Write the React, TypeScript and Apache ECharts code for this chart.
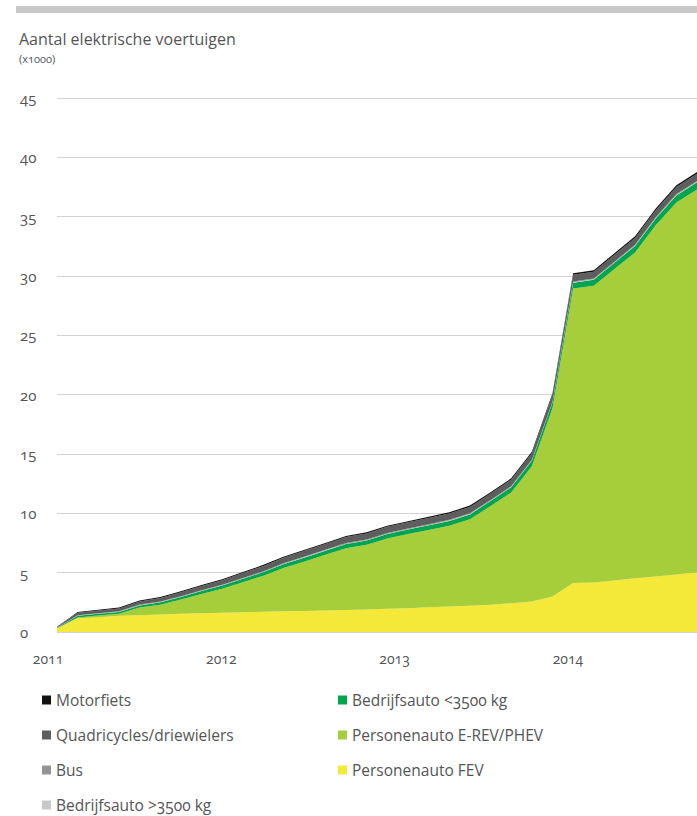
import React, { useEffect, useRef } from "react";
import * as echarts from "echarts";

// Observation points (regular spacing along the time axis)
const periods = [
  "1", "2", "3", "4", "5", "6", "7", "8", "9", "10", "11", "12", "13", "14", "15", "16",
  "17", "18", "19", "20", "21", "22", "23", "24", "25", "26", "27", "28", "29", "30", "31", "32",
];

// Year labels on the time axis
const yearLabels = [2011, 2012, 2013, 2014];

// Values (x1000), bottom to top of the stack
const personenautoFEV = [
  0.32, 1.15, 1.25, 1.36, 1.42, 1.48, 1.53, 1.58, 1.62, 1.66, 1.70, 1.74, 1.78, 1.82, 1.86, 1.90,
  1.95, 2.00, 2.08, 2.15, 2.22, 2.30, 2.42, 2.58, 3.00, 4.12, 4.17, 4.35, 4.53, 4.68, 4.85, 5.01,
];
const personenautoPHEV = [
  0.0, 0.07, 0.13, 0.17, 0.64, 0.82, 1.20, 1.63, 2.03, 2.54, 3.05, 3.67, 4.17, 4.69, 5.20, 5.45,
  5.93, 6.25, 6.52, 6.81, 7.28, 8.31, 9.33, 11.38, 15.85, 24.82, 25.01, 26.23, 27.45, 29.59, 31.35, 32.28,
];
const bedrijfsautoKlein = [
  0.03, 0.14, 0.15, 0.16, 0.18, 0.20, 0.22, 0.24, 0.26, 0.28, 0.30, 0.32, 0.33, 0.34, 0.35, 0.36,
  0.37, 0.38, 0.39, 0.40, 0.41, 0.43, 0.45, 0.47, 0.48, 0.50, 0.51, 0.53, 0.55, 0.57, 0.59, 0.61,
];
const bedrijfsautoGroot = [
  0.01, 0.02, 0.02, 0.02, 0.02, 0.02, 0.02, 0.02, 0.02, 0.02, 0.02, 0.03, 0.03, 0.03, 0.03, 0.03,
  0.03, 0.03, 0.03, 0.03, 0.03, 0.03, 0.03, 0.03, 0.03, 0.03, 0.03, 0.03, 0.03, 0.04, 0.04, 0.04,
];
const bus = [
  0.01, 0.04, 0.04, 0.04, 0.05, 0.05, 0.05, 0.05, 0.05, 0.05, 0.05, 0.05, 0.05, 0.05, 0.06, 0.06,
  0.06, 0.06, 0.06, 0.06, 0.06, 0.06, 0.06, 0.06, 0.07, 0.07, 0.07, 0.07, 0.07, 0.07, 0.07, 0.07,
];
const quadricycles = [
  0.05, 0.20, 0.22, 0.24, 0.27, 0.30, 0.33, 0.36, 0.39, 0.42, 0.45, 0.47, 0.48, 0.49, 0.50, 0.51,
  0.52, 0.52, 0.53, 0.53, 0.54, 0.54, 0.55, 0.55, 0.56, 0.57, 0.57, 0.58, 0.58, 0.59, 0.59, 0.60,
];
const motorfiets = [
  0.02, 0.06, 0.06, 0.07, 0.07, 0.07, 0.08, 0.08, 0.08, 0.08, 0.09, 0.09, 0.09, 0.09, 0.10, 0.10,
  0.10, 0.10, 0.10, 0.11, 0.11, 0.11, 0.11, 0.12, 0.12, 0.13, 0.13, 0.13, 0.14, 0.14, 0.15, 0.15,
];

const seriesDefs = [
  { name: "Personenauto FEV", data: personenautoFEV, color: "#f4e838" },
  { name: "Personenauto E-REV/PHEV", data: personenautoPHEV, color: "#a6cd3a" },
  { name: "Bedrijfsauto <3500 kg", data: bedrijfsautoKlein, color: "#00a54f" },
  { name: "Bedrijfsauto >3500 kg", data: bedrijfsautoGroot, color: "#c9c9c9" },
  { name: "Bus", data: bus, color: "#949494" },
  { name: "Quadricycles/driewielers", data: quadricycles, color: "#5e5e5e" },
  { name: "Motorfiets", data: motorfiets, color: "#111111" },
];

const FONT = "'Open Sans', Lato, sans-serif";

export default function App() {
  const ref = useRef<HTMLDivElement>(null);

  useEffect(() => {
    if (!ref.current) return;
    const chart = echarts.init(ref.current, undefined, { renderer: "svg" });
    const yearMin = yearLabels[0];
    const yearMax = yearMin + 640 / 173.3;
    const legendText = { fontFamily: FONT, fontSize: 15.5, lineHeight: 14, color: "#555555" };
    const legendBase = {
      orient: "vertical",
      top: 692,
      height: 220,
      padding: 0,
      icon: "rect",
      itemWidth: 9,
      itemHeight: 9,
      itemGap: 19,
      selectedMode: false,
      textStyle: legendText,
    };
    chart.setOption({
      animation: false,
      textStyle: { fontFamily: FONT },
      title: {
        text: "Aantal elektrische voertuigen",
        subtext: "(x1000)",
        left: 19,
        top: 31,
        padding: 0,
        itemGap: 6,
        textStyle: { fontFamily: FONT, fontSize: 16, fontWeight: "normal", color: "#555555" },
        subtextStyle: { fontFamily: FONT, fontSize: 11, color: "#555555" },
      },
      graphic: [
        {
          type: "rect",
          shape: { x: 16, y: 6, width: 681, height: 7 },
          style: { fill: "#c8c8c8" },
          silent: true,
        },
      ],
      legend: [
        {
          ...legendBase,
          left: 42,
          data: ["Motorfiets", "Quadricycles/driewielers", "Bus", "Bedrijfsauto >3500 kg"],
        },
        {
          ...legendBase,
          left: 338,
          data: ["Bedrijfsauto <3500 kg", "Personenauto E-REV/PHEV", "Personenauto FEV"],
        },
      ],
      grid: { left: 57, right: 0, top: 98, bottom: 184, containLabel: false },
      xAxis: [
        {
          type: "category",
          data: periods,
          boundaryGap: false,
          axisLine: { show: false },
          axisTick: { show: false },
          axisLabel: { show: false },
          splitLine: { show: false },
        },
        {
          type: "value",
          position: "bottom",
          min: yearMin,
          max: yearMax,
          interval: 1,
          axisLine: { show: false },
          axisTick: { show: false },
          splitLine: { show: false },
          axisLabel: {
            show: true,
            margin: 19,
            padding: [0, 18, 0, 0],
            showMaxLabel: false,
            fontFamily: FONT,
            fontSize: 14,
            color: "#555555",
            formatter: (v: number) => (Number.isInteger(v) ? String(v) : ""),
          },
        },
      ],
      yAxis: {
        type: "value",
        min: 0,
        max: 45,
        interval: 5,
        axisLine: { show: false },
        axisTick: { show: false },
        axisLabel: {
          align: "left",
          margin: 37,
          fontFamily: FONT,
          fontSize: 15,
          color: "#555555",
        },
        splitLine: { lineStyle: { color: "#d2d2d2", width: 1 } },
      },
      series: seriesDefs.map((s) => ({
        name: s.name,
        type: "line",
        stack: "total",
        data: s.data,
        xAxisIndex: 0,
        symbol: "none",
        lineStyle: { width: 0 },
        itemStyle: { color: s.color },
        areaStyle: { color: s.color, opacity: 1 },
      })),
    });
    return () => chart.dispose();
  }, []);

  return (
    <>
      <style>{`.ev-chart text { font-feature-settings: "onum" 1; }`}</style>
      <div
        ref={ref}
        className="ev-chart"
        style={{ position: "absolute", left: 0, top: 0, width: 697, height: 816 }}
      />
    </>
  );
}
